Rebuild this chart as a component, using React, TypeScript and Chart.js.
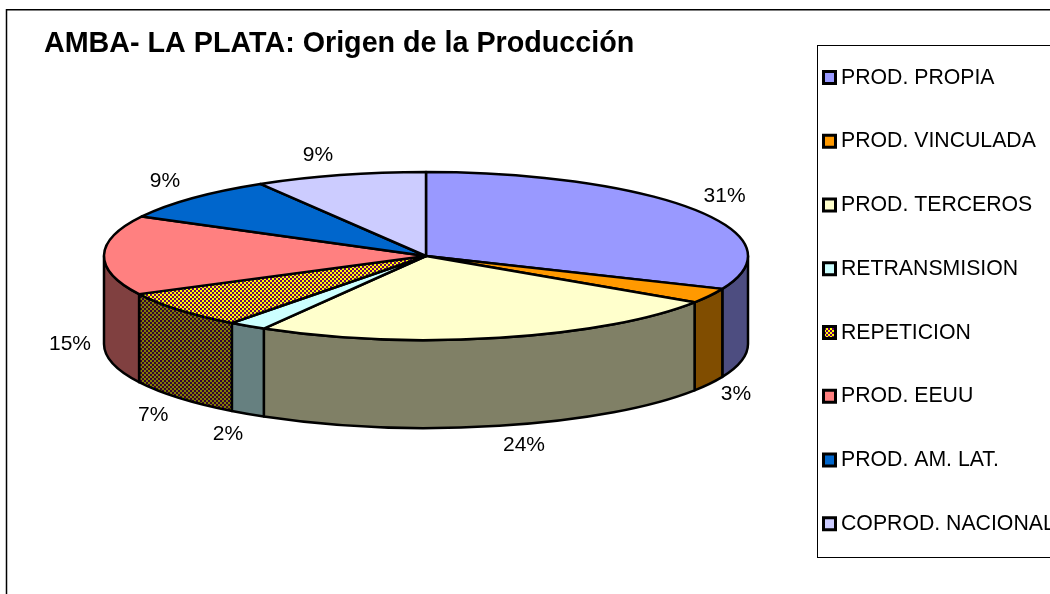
import React, { useEffect, useRef } from "react";
import { Chart, registerables } from "chart.js";

Chart.register(...registerables);

const titleText = "AMBA- LA PLATA: Origen de la Producción";
const categories = [
  "PROD. PROPIA",
  "PROD. VINCULADA",
  "PROD. TERCEROS",
  "RETRANSMISION",
  "REPETICION",
  "PROD. EEUU",
  "PROD. AM. LAT.",
  "COPROD. NACIONAL",
];
const shares = [31.4, 2.9, 24.1, 1.9, 7.2, 15.3, 8.6, 8.6];
const topColors = ["#9999FF", "#FF9900", "#FFFFCC", "#CCFFFF", "HATCH", "#FF8080", "#0066CC", "#CCCCFF"];
const wallColors = ["#4D4D80", "#804D00", "#808066", "#668080", "HATCH_DARK", "#804040", "#003366", "#666680"];
const labelNudges = [
  [5, -1], [0, 0], [18, -2], [-3, 2], [-3, 3], [-4, 1], [-6, -2], [-14, 1],
];

const FONT = "'Liberation Sans', Arial, sans-serif";
const DEPTH = 88;
const PIE = { left: 104, top: 172, right: 748, bottom: 340 };

function checker(a: string, b: string): CanvasPattern {
  const c = document.createElement("canvas");
  c.width = 4;
  c.height = 4;
  const g = c.getContext("2d")!;
  g.fillStyle = a;
  g.fillRect(0, 0, 4, 4);
  g.fillStyle = b;
  g.fillRect(0, 0, 2, 2);
  g.fillRect(2, 2, 2, 2);
  return g.createPattern(c, "repeat")!;
}

const geometryPlugin = {
  id: "geometry",
  afterLayout(chart: any) {
    chart.chartArea = {
      left: PIE.left,
      top: PIE.top,
      right: PIE.right,
      bottom: PIE.bottom,
      width: PIE.right - PIE.left,
      height: PIE.bottom - PIE.top,
    };
    const t = chart.titleBlock;
    t.left = 44;
    t.right = 760;
    t.top = 27;
    t.bottom = 61;
    const l = chart.legend;
    const pad = l.options.labels.padding;
    const dx = 822 - (l.left + pad);
    const newTop = 24.6;
    const dy = newTop - l.top;
    l.left += dx;
    l.right = 1300;
    l.top = newTop;
    l.bottom = 700;
    l.legendHitBoxes.forEach((h: any) => {
      h.left += dx;
      h.top += dy;
    });
  },
};

const framePlugin = {
  id: "frames",
  beforeDraw(chart: any) {
    const c = chart.ctx;
    c.save();
    c.strokeStyle = "#000";
    c.lineWidth = 1.5;
    c.beginPath();
    c.moveTo(6.5, 600);
    c.lineTo(6.5, 9.8);
    c.lineTo(1060, 9.8);
    c.stroke();
    c.lineWidth = 1;
    c.strokeRect(817.5, 45.5, 300, 512);
    c.restore();
  },
  afterDraw(chart: any) {
    const c = chart.ctx;
    const ds = chart.data.datasets[0];
    const l = chart.legend;
    const x = l.left + l.options.labels.padding;
    c.save();
    l.legendHitBoxes.forEach((h: any, i: number) => {
      const yc = h.top + h.height / 2;
      c.fillStyle = ds.backgroundColor[i];
      c.strokeStyle = "#000";
      c.lineWidth = 3;
      c.beginPath();
      c.rect(x + 1.5, yc - 6.2, 12, 12);
      c.fill();
      c.stroke();
    });
    c.restore();
  },
};

const pie3dPlugin = {
  id: "pie3d",
  beforeDatasetDraw(chart: any, args: any) {
    const c = chart.ctx;
    const arcs = args.meta.data;
    const ds = chart.data.datasets[0];
    const walls = ds.wallColor;
    const first = arcs[0];
    const cx = first.x;
    const cy = first.y;
    const rx = chart.chartArea.width / 2;
    const ry = first.outerRadius;
    c.save();
    c.lineJoin = "round";
    c.lineWidth = 2.5;
    c.strokeStyle = "#000";
    arcs.forEach((arc: any, i: number) => {
      const a = Math.max(arc.startAngle, 0);
      const b = Math.min(arc.endAngle, Math.PI);
      if (b <= a) return;
      c.beginPath();
      c.ellipse(cx, cy, rx, ry, 0, a, b);
      c.ellipse(cx, cy + DEPTH, rx, ry, 0, b, a, true);
      c.closePath();
      c.fillStyle = walls[i];
      c.fill();
      c.stroke();
    });
    arcs.forEach((arc: any, i: number) => {
      c.beginPath();
      c.moveTo(cx, cy);
      c.ellipse(cx, cy, rx, ry, 0, arc.startAngle, arc.endAngle);
      c.closePath();
      c.fillStyle = ds.backgroundColor[i];
      c.fill();
      c.stroke();
    });
    c.fillStyle = "#000";
    c.font = `21px ${FONT}`;
    c.textAlign = "center";
    c.textBaseline = "middle";
    arcs.forEach((arc: any, i: number) => {
      const mid = (arc.startAngle + arc.endAngle) / 2;
      const s = Math.sin(mid);
      const x = cx + (rx + 30) * Math.cos(mid) + labelNudges[i][0];
      const y = cy + (ry + 22) * s + (s > -0.05 ? DEPTH : 0) + labelNudges[i][1];
      c.fillText(`${Math.round(shares[i])}%`, x, y);
    });
    c.restore();
    return false;
  },
};

export default function App() {
  const ref = useRef<HTMLCanvasElement>(null);
  useEffect(() => {
    const hatch = checker("#FFFF00", "#660066");
    const hatchDark = checker("#808000", "#330033");
    const chart = new Chart(ref.current!, {
      type: "pie",
      data: {
        labels: categories,
        datasets: [
          {
            data: shares,
            borderWidth: 0,
            backgroundColor: topColors.map((k) => (k === "HATCH" ? hatch : k)),
            wallColor: wallColors.map((k) => (k === "HATCH_DARK" ? hatchDark : k)),
          } as any,
        ],
      },
      options: {
        responsive: false,
        animation: false,
        events: [],
        plugins: {
          tooltip: { enabled: false },
          title: {
            display: true,
            text: titleText,
            align: "start",
            color: "#000",
            padding: 0,
            font: { family: FONT, size: 28.7, weight: "bold" },
          },
          legend: {
            display: true,
            position: "right",
            align: "start",
            labels: {
              color: "#000",
              boxWidth: 8.4,
              boxHeight: 9,
              padding: 42.5,
              font: { family: FONT, size: 21.25 },
            },
          },
        },
      },
      plugins: [geometryPlugin, framePlugin, pie3dPlugin],
    } as any);
    return () => chart.destroy();
  }, []);
  return (
    <canvas
      ref={ref}
      width={1050}
      height={594}
      style={{ position: "fixed", left: 0, top: 0, display: "block", background: "#fff" }}
    />
  );
}
